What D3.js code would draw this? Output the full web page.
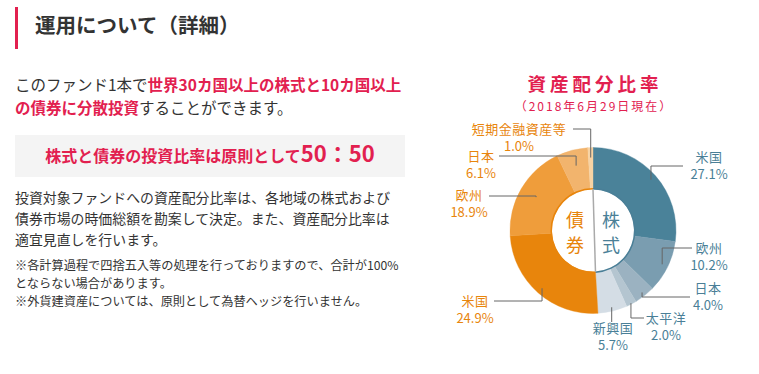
<!DOCTYPE html>
<html>
<head>
<meta charset="utf-8">
<script src="https://cdn.jsdelivr.net/npm/d3@7"></script>
<style>
  body { margin: 0; background: #fff; }
  svg text { font-family: "Noto Sans CJK JP", "Noto Sans", sans-serif; }
</style>
</head>
<body>
<div id="chart"></div>
<script>
// 資産配分比率 (2018年6月29日現在), clockwise from top
var assetNames = ['米国', '欧州', '日本', '太平洋', '新興国', '米国', '欧州', '日本', '短期金融資産等'];
var assetGroups = ['株式', '株式', '株式', '株式', '株式', '債券', '債券', '債券', '債券'];
var assetShares = [27.1, 10.2, 4.0, 2.0, 5.7, 24.9, 18.9, 6.1, 1.0];
var groupNames = ['株式', '債券'];

var width = 759;
var height = 374;
var red = '#e2204f';
var text = '#333';

var colors = d3.scaleOrdinal()
  .domain(d3.range(assetShares.length))
  .range(['#4a8299', '#7a9db0', '#9bb2c1', '#b4c5d0', '#d4dde5', '#e8850c', '#ef9d3b', '#f2b46d', '#f7d3a4']);
var groupColor = d3.scaleOrdinal().domain(groupNames).range(['#4a7f97', '#e8850c']);

// where each leader line starts (radius) and where it goes / the label sits
var labelLayout = [
  { r: 77, ly: 166, lx: 683, tx: 709, ty: 162 },
  { r: 77, ly: 248, lx: 692, tx: 709, ty: 253 },
  { r: 79, ly: 297, lx: 690, tx: 708, ty: 293 },
  { r: 82, ly: 318, lx: 644, tx: 666, ty: 323 },
  { r: 79, ly: 322, lx: null, tx: 613, ty: 333 },
  { r: 77, ly: 301, lx: 494, tx: 475, ty: 306 },
  { r: 66, ly: 196, lx: 489, tx: 469, ty: 200 },
  { r: 67, ly: 156, lx: 499, tx: 481, ty: 161 },
  { r: 73, ly: 129, lx: 573, tx: 519, ty: 134 }
];

var svg = d3.select('#chart')
  .append('svg')
  .attr('width', width)
  .attr('height', height);

// ---- left column ----
svg.append('rect').attr('x', 15).attr('y', 7).attr('width', 3).attr('height', 42).attr('fill', red);
svg.append('text').attr('x', 35).attr('y', 33)
  .attr('font-size', 20.5).attr('font-weight', 'bold').attr('fill', text)
  .text('運用について（詳細）');

var p1 = svg.append('g').attr('font-size', 15.5);
var l1 = p1.append('text').attr('x', 15).attr('y', 91);
l1.append('tspan').attr('fill', text).text('このファンド1本で');
l1.append('tspan').attr('fill', red).attr('font-weight', 'bold').text('世界30カ国以上の株式と10カ国以上');
var l2 = p1.append('text').attr('x', 15).attr('y', 114);
l2.append('tspan').attr('fill', red).attr('font-weight', 'bold').text('の債券に分散投資');
l2.append('tspan').attr('fill', text).text('することができます。');

svg.append('rect').attr('x', 15).attr('y', 135).attr('width', 390).attr('height', 42).attr('fill', '#f4f4f4');
var box = svg.append('text').attr('x', 210).attr('y', 162).attr('text-anchor', 'middle')
  .attr('fill', red).attr('font-weight', 'bold');
box.append('tspan').attr('font-size', 16).text('株式と債券の投資比率は原則として');
box.append('tspan').attr('font-size', 22).text('50：50');

var body = ['投資対象ファンドへの資産配分比率は、各地域の株式および',
  '債券市場の時価総額を勘案して決定。また、資産配分比率は',
  '適宜見直しを行います。'];
svg.append('g').selectAll('text').data(body).enter().append('text')
  .attr('x', 15).attr('y', function (d, i) { return 203 + i * 21; })
  .attr('font-size', 13.9).attr('fill', text)
  .text(function (d) { return d; });

var notes = ['※各計算過程で四捨五入等の処理を行っておりますので、合計が100%',
  'とならない場合があります。',
  '※外貨建資産については、原則として為替ヘッジを行いません。'];
svg.append('g').selectAll('text').data(notes).enter().append('text')
  .attr('x', 15).attr('y', function (d, i) { return 270 + i * 18; })
  .attr('font-size', 12.2).attr('fill', text)
  .text(function (d) { return d; });

// ---- pie ----
var cx = 593, cy = 230.5;
var outerR = 83, innerR = 41.5;

svg.append('text').attr('x', cx + 2).attr('y', 91).attr('text-anchor', 'middle')
  .attr('font-size', 18.5).attr('font-weight', 'bold').attr('letter-spacing', 4).attr('fill', red)
  .text('資産配分比率');
svg.append('text').attr('x', cx + 1).attr('y', 111).attr('text-anchor', 'middle')
  .attr('font-size', 12).attr('letter-spacing', 2).attr('fill', red)
  .text('（2018年6月29日現在）');

var pie = d3.pie().sort(null).value(function (d) { return d; });
var arcs = pie(assetShares);
var arc = d3.arc().innerRadius(innerR).outerRadius(outerR);

var g = svg.append('g').attr('transform', 'translate(' + cx + ',' + cy + ')');

g.selectAll('.slice').data(arcs).enter().append('path')
  .attr('class', 'slice')
  .attr('d', arc)
  .attr('fill', function (d, i) { return colors(i); })
  .attr('stroke', function (d, i) { return colors(i); })
  .attr('stroke-width', 0.4);

// rim around the hole, one per group
var groupArcs = groupNames.map(function (name) {
  var parts = arcs.filter(function (d, i) { return assetGroups[i] === name; });
  return { name: name, startAngle: d3.min(parts, function (d) { return d.startAngle; }),
    endAngle: d3.max(parts, function (d) { return d.endAngle; }) };
});
var rim = d3.arc().innerRadius(innerR - 0.5).outerRadius(innerR + 1);
g.selectAll('.rim').data(groupArcs).enter().append('path')
  .attr('class', 'rim').attr('d', rim)
  .attr('fill', function (d) { return groupColor(d.name); });

// divider across the hole
var splitAngle = groupArcs[0].endAngle;
g.append('line')
  .attr('x1', 0).attr('y1', -innerR)
  .attr('x2', innerR * Math.sin(splitAngle)).attr('y2', -innerR * Math.cos(splitAngle))
  .attr('stroke', '#aaa').attr('stroke-width', 1.5);

// group names in the hole
var centerText = [
  { name: '株式', x: 18 },
  { name: '債券', x: -18 }
];
centerText.forEach(function (c) {
  var t = g.append('text').attr('text-anchor', 'middle').attr('font-size', 18)
    .attr('fill', groupColor(c.name));
  c.name.split('').forEach(function (ch, i) {
    t.append('tspan').attr('x', c.x).attr('y', -4 + i * 25).text(ch);
  });
});

// leader lines and labels
arcs.forEach(function (d, i) {
  var L = labelLayout[i];
  var mid = (d.startAngle + d.endAngle) / 2;
  var sx = cx + L.r * Math.sin(mid);
  var sy = cy - L.r * Math.cos(mid);
  var path = d3.path();
  path.moveTo(sx, sy);
  path.lineTo(sx, L.ly);
  if (L.lx !== null) path.lineTo(L.lx, L.ly);
  svg.append('path').attr('d', path.toString())
    .attr('fill', 'none').attr('stroke', '#666').attr('stroke-width', 1);

  var label = svg.append('text').attr('text-anchor', 'middle')
    .attr('font-size', 13).attr('fill', groupColor(assetGroups[i]));
  label.append('tspan').attr('x', L.tx).attr('y', L.ty).attr('letter-spacing', 0.5)
    .text(assetNames[i]);
  label.append('tspan').attr('x', L.tx).attr('y', L.ty + 16.5)
    .text(d3.format('.1f')(assetShares[i]) + '%');
});
</script>
</body>
</html>
